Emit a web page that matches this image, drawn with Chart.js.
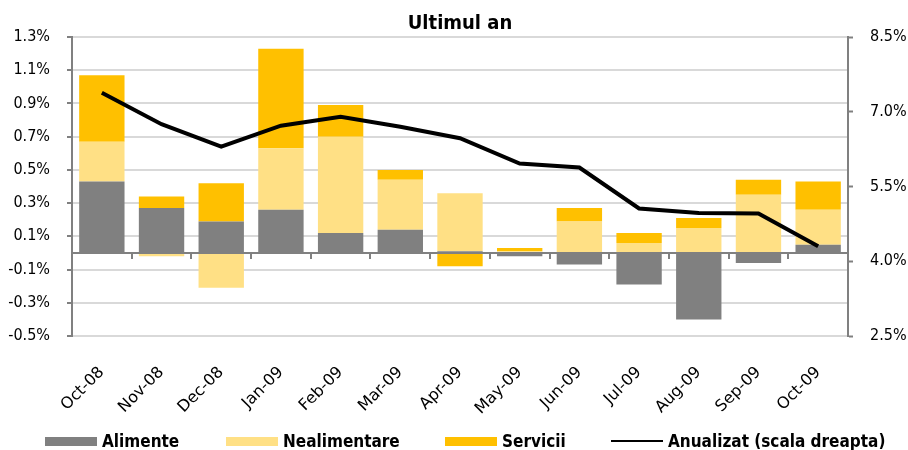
<!DOCTYPE html>
<html>
<head>
<meta charset="utf-8">
<script src="https://cdn.jsdelivr.net/npm/chart.js@4"></script>
<style>
    html, body { margin: 0; padding: 0; background: #fff; }
    #wrap { position: relative; width: 908px; height: 450px; }
    #legend { position: absolute; left: 0; top: 0; width: 908px; height: 450px; pointer-events: none;
              font-family: "DejaVu Sans Condensed", "DejaVu Sans", sans-serif; font-weight: bold; font-size: 17px; color: #000; }
    .sw { position: absolute; top: 437px; width: 52px; height: 9px; }
    .ln { position: absolute; top: 440px; width: 52px; height: 2px; background: #000; }
    .tx { position: absolute; top: 430px; line-height: 22px; white-space: nowrap; }
</style>
</head>
<body>
<div id="wrap">
    <canvas id="chart" width="908" height="450"></canvas>
    <div id="legend"></div>
</div>
<script>
// ── Datos ────────────────────────────────────────────────────────────────
const labels       = ['Oct-08', 'Nov-08', 'Dec-08', 'Jan-09', 'Feb-09', 'Mar-09', 'Apr-09',
                      'May-09', 'Jun-09', 'Jul-09', 'Aug-09', 'Sep-09', 'Oct-09'];
const alimente     = [0.43, 0.27, 0.19, 0.26, 0.12, 0.14, 0.01, -0.02, -0.07, -0.19, -0.40, -0.06, 0.05];
const nealimentare = [0.24, -0.02, -0.21, 0.37, 0.58, 0.30, 0.35, 0.01, 0.19, 0.06, 0.15, 0.35, 0.21];
const servicii     = [0.40, 0.07, 0.23, 0.60, 0.19, 0.06, -0.08, 0.02, 0.08, 0.06, 0.06, 0.09, 0.17];
const anualizat    = [7.38, 6.75, 6.30, 6.72, 6.90, 6.70, 6.47, 5.96, 5.88, 5.06, 4.97, 4.96, 4.30];

const leftTicks  = [-0.5, -0.3, -0.1, 0.1, 0.3, 0.5, 0.7, 0.9, 1.1, 1.3];
const rightTicks = [2.5, 4.0, 5.5, 7.0, 8.5];

const seriesNames = ['Alimente', 'Nealimentare', 'Servicii', 'Anualizat (scala dreapta)'];
const colors      = ['#808080', '#FFE085', '#FFC000', '#000000'];

const FONT      = '"DejaVu Sans Condensed", "DejaVu Sans", sans-serif';
const FONT_WIDE = '"DejaVu Sans", sans-serif';

// ── Marcas del eje X sobre la línea de cero ─────────────────────────────
const zeroTicks = {
    id: 'zeroTicks',
    afterDatasetsDraw(chart) {
        const x = chart.scales.x, y = chart.scales.y, ctx = chart.ctx;
        const y0 = y.getPixelForValue(0);
        const half = (x.getPixelForValue(1) - x.getPixelForValue(0)) / 2;
        ctx.save();
        ctx.strokeStyle = '#808080';
        ctx.lineWidth = 2;
        ctx.beginPath();
        ctx.moveTo(chart.chartArea.left, y0);
        ctx.lineTo(chart.chartArea.right, y0);
        for (let i = 1; i < labels.length; i++) {
            const px = Math.round(x.getPixelForValue(i) - half);
            ctx.moveTo(px, y0);
            ctx.lineTo(px, y0 + 6);
        }
        ctx.stroke();
        ctx.restore();
    }
};

const barSet = (i, data) => ({
    type: 'bar', label: seriesNames[i], data,
    backgroundColor: colors[i], borderWidth: 0,
    yAxisID: 'y', stack: 's', order: 2,
    barPercentage: 0.76, categoryPercentage: 1
});

new Chart(document.getElementById('chart'), {
    data: {
        labels,
        datasets: [
            {
                type: 'line', label: seriesNames[3], data: anualizat, yAxisID: 'y2',
                borderColor: colors[3], borderWidth: 4, pointRadius: 0, tension: 0, order: 0
            },
            barSet(0, alimente),
            barSet(1, nealimentare),
            barSet(2, servicii)
        ]
    },
    options: {
        responsive: false,
        animation: false,
        layout: { padding: { bottom: 14 } },
        plugins: {
            legend: { display: false },
            tooltip: { enabled: false },
            title: {
                display: true, text: 'Ultimul an', fullSize: false, color: '#000',
                font: { family: FONT, size: 20, weight: 'bold' },
                padding: { top: 12, bottom: 1 }
            }
        },
        scales: {
            x: {
                stacked: true,
                afterFit: s => { s.height = 100; },
                grid: { display: false, drawTicks: false },
                border: { display: false },
                ticks: {
                    color: '#000', font: { family: FONT_WIDE, size: 16 },
                    minRotation: 45, maxRotation: 45, padding: 27, autoSkip: false
                }
            },
            y: {
                position: 'left', stacked: true, min: -0.5, max: 1.3,
                afterBuildTicks: s => { s.ticks = leftTicks.map(v => ({ value: v })); },
                afterFit: s => { s.width = 72; },
                grid: {
                    color: '#D9D9D9', lineWidth: 2,
                    tickColor: '#808080', tickLength: 5, tickWidth: 2
                },
                border: { color: '#808080', width: 2 },
                ticks: {
                    color: '#000', font: { family: FONT, size: 16 }, padding: 17,
                    callback: v => v.toFixed(1) + '%'
                }
            },
            y2: {
                position: 'right', min: 2.5, max: 8.5,
                afterBuildTicks: s => { s.ticks = rightTicks.map(v => ({ value: v })); },
                afterFit: s => { s.width = 60; },
                grid: { drawOnChartArea: false, tickColor: '#808080', tickLength: 5, tickWidth: 2 },
                border: { color: '#808080', width: 2 },
                ticks: {
                    color: '#000', font: { family: FONT, size: 16 }, padding: 17,
                    callback: v => v.toFixed(1) + '%'
                }
            }
        }
    },
    plugins: [zeroTicks]
});

// ── Leyenda HTML ────────────────────────────────────────────────────────
const legendX = [45, 226, 445, 611];
document.getElementById('legend').innerHTML = seriesNames.map((name, i) => {
    const mark = i === 3
        ? `<div class="ln" style="left:${legendX[i]}px"></div>`
        : `<div class="sw" style="left:${legendX[i]}px;background:${colors[i]}"></div>`;
    return mark + `<div class="tx" style="left:${legendX[i] + 57}px">${name}</div>`;
}).join('');
</script>
</body>
</html>
